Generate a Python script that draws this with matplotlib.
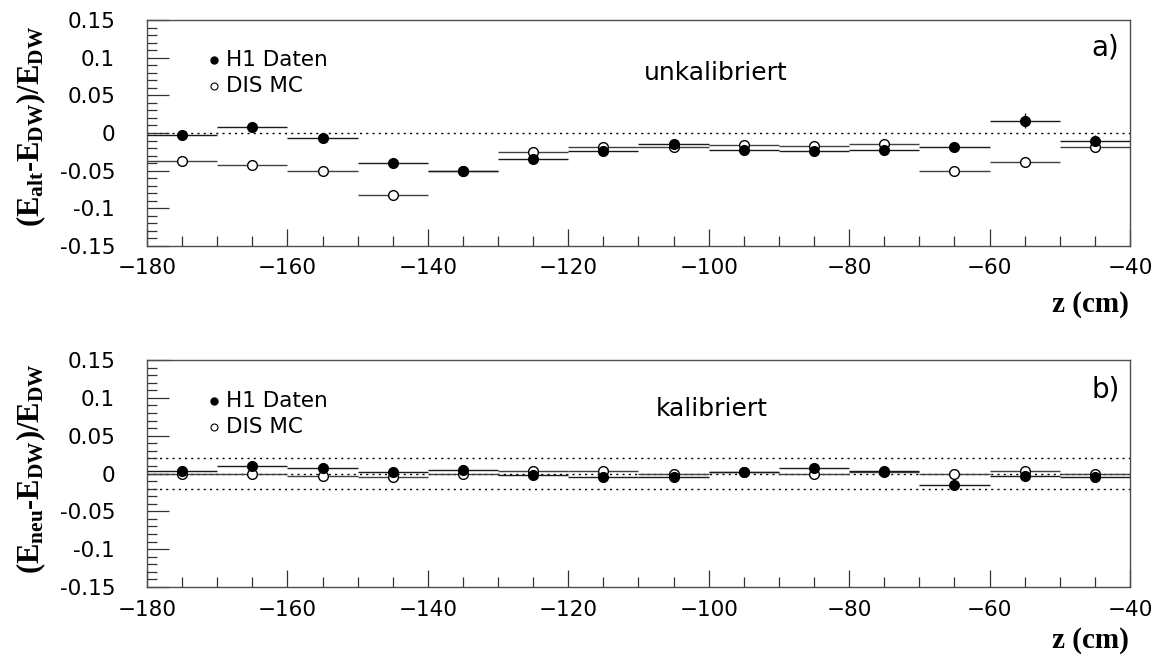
import matplotlib
matplotlib.use('Agg')
from matplotlib import pyplot as plt
from matplotlib.ticker import MultipleLocator, FuncFormatter

plt.rcParams['font.family'] = ['DejaVu Sans']
plt.rcParams['mathtext.default'] = 'regular'

# bin centres in z (cm), bin half width 5 cm
z = [-175, -165, -155, -145, -135, -125, -115, -105, -95, -85, -75, -65, -55, -45]
z_halfwidth = 5

# a) uncalibrated: (E_alt - E_DW) / E_DW
alt_daten = [-0.002, 0.008, -0.006, -0.040, -0.051, -0.034, -0.024,
             -0.014, -0.022, -0.024, -0.022, -0.018, 0.016, -0.010]
alt_daten_err = [0.003, 0.003, 0.003, 0.003, 0.003, 0.003, 0.002,
                 0.002, 0.002, 0.002, 0.002, 0.003, 0.010, 0.007]
alt_mc = [-0.037, -0.043, -0.051, -0.082, -0.050, -0.025, -0.019,
          -0.019, -0.016, -0.017, -0.014, -0.051, -0.039, -0.019]
alt_mc_err = [0.002] * 14

# b) calibrated: (E_neu - E_DW) / E_DW
neu_daten = [0.003, 0.010, 0.007, 0.002, 0.004, -0.002, -0.004,
             -0.005, 0.002, 0.007, 0.003, -0.015, -0.003, -0.005]
neu_daten_err = [0.002, 0.002, 0.002, 0.002, 0.002, 0.002, 0.002,
                 0.002, 0.002, 0.002, 0.002, 0.003, 0.006, 0.006]
neu_mc = [-0.001, -0.001, -0.003, -0.005, 0.000, 0.003, 0.003,
          -0.001, 0.002, 0.000, 0.002, 0.000, 0.003, 0.000]
neu_mc_err = [0.002] * 14

W, H = 1164, 657
fig = plt.figure(figsize=(W / 100, H / 100), dpi=100)
ax1 = fig.add_axes([147 / W, 1 - 246 / H, 983 / W, 226 / H])
ax2 = fig.add_axes([147 / W, 1 - 587 / H, 983 / W, 227 / H])


def y_fmt(v, pos):
    return '0' if abs(v) < 1e-9 else '%g' % round(v, 2)


def x_fmt(v, pos):
    return ('%d' % v).replace('-', '\u2212')


def style_axes(ax):
    ax.set_xlim(-180, -40)
    ax.set_ylim(-0.15, 0.15)
    ax.xaxis.set_major_locator(MultipleLocator(20))
    ax.xaxis.set_minor_locator(MultipleLocator(5))
    ax.yaxis.set_major_locator(MultipleLocator(0.05))
    ax.yaxis.set_minor_locator(MultipleLocator(0.01))
    ax.xaxis.set_major_formatter(FuncFormatter(x_fmt))
    ax.yaxis.set_major_formatter(FuncFormatter(y_fmt))
    ax.tick_params(axis='both', which='both', direction='in', top=False, right=False,
                   color='0.2', width=0.9, labelsize=15.5)
    ax.tick_params(axis='y', which='major', length=16, pad=23)
    ax.tick_params(axis='y', which='minor', length=7)
    ax.tick_params(axis='x', which='major', length=12, pad=9)
    ax.tick_params(axis='x', which='minor', length=7)
    for sp in ax.spines.values():
        sp.set_color('0.3')
        sp.set_linewidth(1.0)


def draw_points(ax, daten, daten_err, mc, mc_err):
    ax.errorbar(z, mc, xerr=z_halfwidth, yerr=mc_err, fmt='o', ms=7,
                mfc='white', mec='black', mew=1.0, ecolor='0.25', elinewidth=1.0,
                capsize=0, zorder=3)
    ax.errorbar(z, daten, xerr=z_halfwidth, yerr=daten_err, fmt='o', ms=7,
                mfc='black', mec='black', ecolor='0.1', elinewidth=1.0,
                capsize=0, zorder=4)


def legend_block(ax, y1, y2):
    ax.plot([-170.5], [y1], 'o', ms=5, mfc='black', mec='black')
    ax.plot([-170.5], [y2], 'o', ms=5, mfc='white', mec='black', mew=0.8)
    ax.text(-168.8, y1, 'H1 Daten', fontsize=15.5, va='center', ha='left')
    ax.text(-168.8, y2, 'DIS MC', fontsize=15.5, va='center', ha='left')


serif_bold = dict(family='Liberation Serif', weight='bold')

# a) unkalibriert
style_axes(ax1)
ax1.axhline(0, color='black', lw=1.0, ls=(0, (1.5, 3)), zorder=1)
draw_points(ax1, alt_daten, alt_daten_err, alt_mc, alt_mc_err)
legend_block(ax1, 0.097, 0.062)
ax1.text(-99, 0.080, 'unkalibriert', fontsize=18, ha='center', va='center')
ax1.text(-41.5, 0.113, 'a)', fontsize=20, ha='right', va='center')
ax1.set_ylabel('(E$_{alt}$-E$_{DW}$)/E$_{DW}$', fontsize=22, **serif_bold)
ax1.yaxis.set_label_coords(-0.101, 0.53)
ax1.set_xlabel('z (cm)', fontsize=21, va='top', ha='right', **serif_bold)
ax1.xaxis.set_label_coords(0.9985, -0.2)

# b) kalibriert
style_axes(ax2)
for level in (0.02, 0.0, -0.02):
    ax2.axhline(level, color='black', lw=1.0, ls=(0, (1.5, 3)), zorder=1)
draw_points(ax2, neu_daten, neu_daten_err, neu_mc, neu_mc_err)
legend_block(ax2, 0.096, 0.062)
ax2.text(-99.5, 0.085, 'kalibriert', fontsize=18, ha='center', va='center')
ax2.text(-41.5, 0.111, 'b)', fontsize=20, ha='right', va='center')
ax2.set_ylabel('(E$_{neu}$-E$_{DW}$)/E$_{DW}$', fontsize=22, **serif_bold)
ax2.yaxis.set_label_coords(-0.101, 0.52)
ax2.set_xlabel('z (cm)', fontsize=21, va='top', ha='right', **serif_bold)
ax2.xaxis.set_label_coords(0.9985, -0.178)

fig.savefig('out.png', dpi=100)
